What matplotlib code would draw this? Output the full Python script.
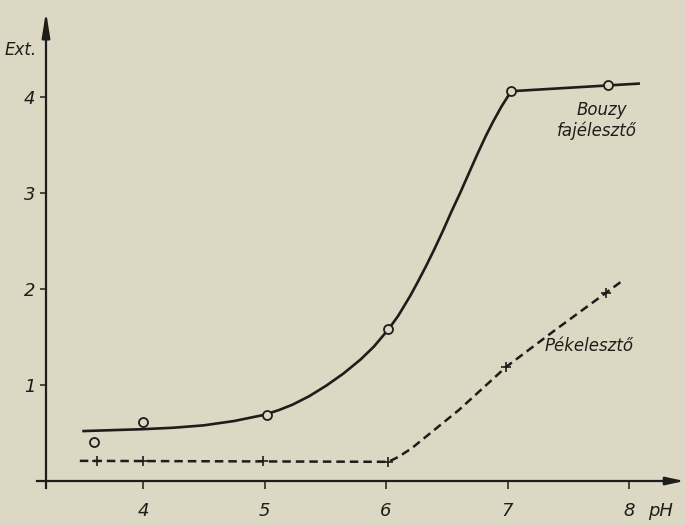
import matplotlib
matplotlib.use("Agg")
import matplotlib.pyplot as plt

# values
bouzy_ph = [3.6, 4.0, 5.02, 6.02, 7.03, 7.83]
bouzy_ext = [0.41, 0.61, 0.69, 1.58, 4.06, 4.12]
bouzy_curve_ph = [3.5, 3.75, 4.0, 4.25, 4.5, 4.75, 5.0, 5.12, 5.23, 5.37,
                  5.51, 5.65, 5.79, 5.9, 6.02, 6.1, 6.2, 6.26, 6.33, 6.4,
                  6.47, 6.54, 6.61, 6.68, 6.75, 6.82, 6.88, 6.95, 7.03, 8.09]
bouzy_curve_ext = [0.52, 0.53, 0.54, 0.555, 0.58, 0.625, 0.69, 0.74, 0.795, 0.885,
                   0.995, 1.12, 1.265, 1.40, 1.58, 1.72, 1.93, 2.07, 2.24, 2.42,
                   2.61, 2.81, 3.0, 3.2, 3.4, 3.59, 3.74, 3.90, 4.06, 4.14]

pek_ph = [3.62, 4.0, 4.99, 6.02, 6.99, 7.81]
pek_ext = [0.21, 0.21, 0.21, 0.20, 1.19, 1.96]
pek_curve_ph = [3.48, 6.02, 6.1, 6.21, 6.6, 6.99, 7.4, 7.81, 7.95]
pek_curve_ext = [0.21, 0.20, 0.25, 0.34, 0.74, 1.19, 1.58, 1.96, 2.09]

x_ticks = [4, 5, 6, 7, 8]
y_ticks = [1, 2, 3, 4]

paper = "#ddd8c3"
ink = "#1f1d1a"

plt.rcParams['font.family'] = ['Liberation Sans Narrow', 'DejaVu Sans']

fig = plt.figure(figsize=(6.86, 5.25), dpi=100, facecolor=paper)
ax = fig.add_axes([0, 0, 1, 1], facecolor=paper)
ax.set_xlim(2.823, 8.469)
ax.set_ylim(-0.458, 5.01)

# axes drawn as spines through the origin of the plot
ax.spines['top'].set_visible(False)
ax.spines['right'].set_visible(False)
ax.spines['left'].set_position(('data', 3.2016))
ax.spines['bottom'].set_position(('data', 0))
ax.spines['left'].set_bounds(-0.075, 4.7)
ax.spines['bottom'].set_bounds(3.128, 8.35)
for s in ['left', 'bottom']:
    ax.spines[s].set_color(ink)
    ax.spines[s].set_linewidth(1.6)

ax.annotate('', xy=(3.2016, 4.89), xytext=(3.2016, 4.6),
            arrowprops=dict(arrowstyle='-|>,head_length=1.5,head_width=0.24',
                            color=ink, lw=1.6, shrinkA=0, shrinkB=0))
ax.annotate('', xy=(8.455, 0), xytext=(8.3, 0),
            arrowprops=dict(arrowstyle='-|>,head_length=1.1,head_width=0.24',
                            color=ink, lw=1.6, shrinkA=0, shrinkB=0))

ax.set_xticks(x_ticks)
ax.set_yticks(y_ticks)
ax.tick_params(axis='x', direction='out', length=5.8, width=1.1, pad=9,
               colors=ink, labelsize=13)
ax.tick_params(axis='y', direction='out', length=4.3, width=1.1, pad=3.5,
               colors=ink, labelsize=13)
for lab in ax.get_xticklabels() + ax.get_yticklabels():
    lab.set_fontstyle('italic')

# Bouzy curve
ax.plot(bouzy_curve_ph, bouzy_curve_ext, color=ink, lw=1.9,
        solid_capstyle='butt', solid_joinstyle='round', zorder=2)
ax.plot(bouzy_ph, bouzy_ext, 'o', ms=6.5, mfc=paper, mec=ink, mew=1.3,
        zorder=3)

# Pékelesztő curve
ax.plot(pek_curve_ph, pek_curve_ext, color=ink, lw=1.8, dashes=(3.4, 2.0),
        zorder=2)
ax.plot(pek_ph, pek_ext, '+', ms=6.5, mec=ink, mew=1.2, zorder=3)

ax.text(2.996, 4.49, 'Ext.', ha='center', va='center', fontsize=12,
        style='italic', color=ink)
ax.text(8.263, -0.3125, 'pH', ha='center', va='center', fontsize=13,
        style='italic', color=ink)
ax.text(7.778, 3.865, 'Bouzy', ha='center', va='center', fontsize=12,
        style='italic', color=ink)
ax.text(7.737, 3.646, 'fajélesztő', ha='center', va='center', fontsize=12,
        style='italic', color=ink)
ax.text(7.67, 1.406, 'Pékelesztő', ha='center', va='center', fontsize=12,
        style='italic', color=ink)

fig.savefig('out.png', dpi=100, facecolor=paper)
